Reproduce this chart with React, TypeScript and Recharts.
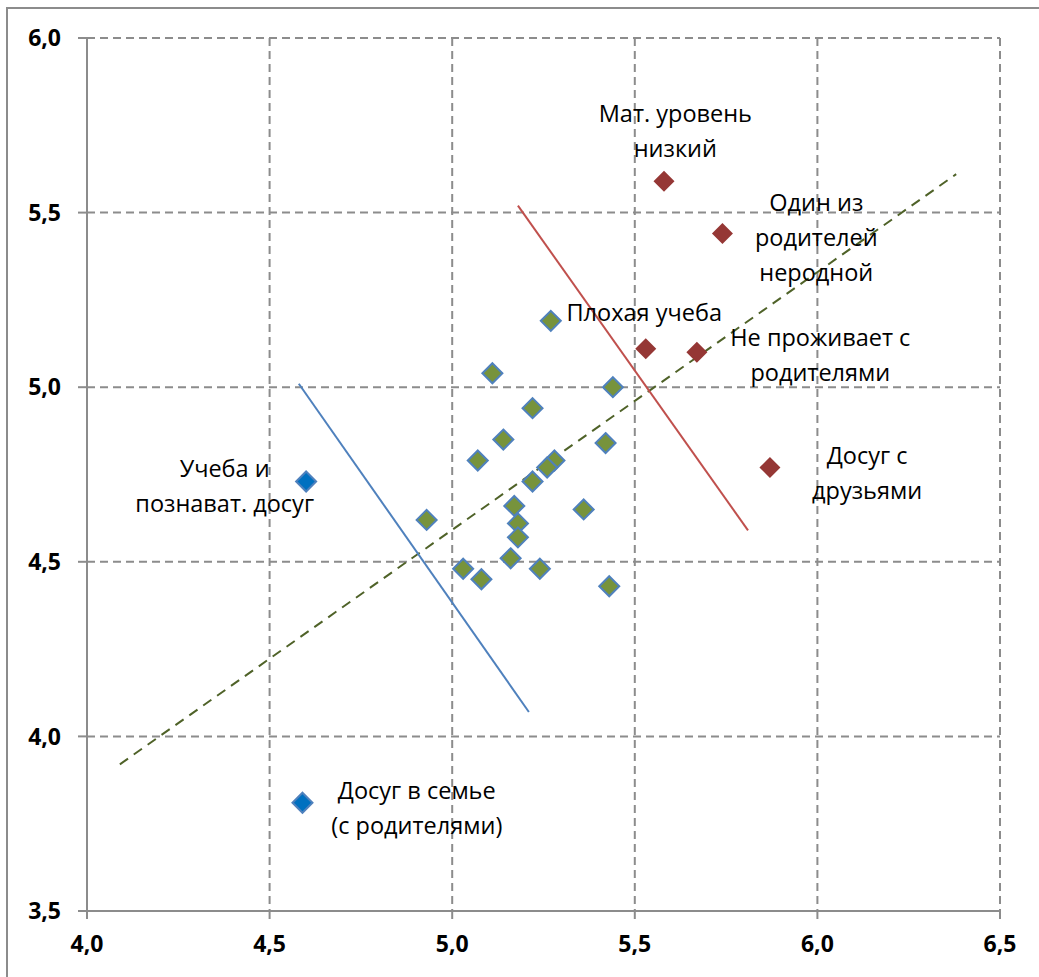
import { ScatterChart, Scatter, XAxis, YAxis, CartesianGrid } from "recharts";

// Factor means: x / y
const groupX = [5.27, 5.11, 5.44, 5.22, 5.14, 5.07, 5.42, 5.28, 5.26, 5.22, 5.17, 5.18, 5.18, 4.93, 5.36, 5.16, 5.03, 5.08, 5.24, 5.43];
const groupY = [5.19, 5.04, 5.00, 4.94, 4.85, 4.79, 4.84, 4.79, 4.77, 4.73, 4.66, 4.61, 4.57, 4.62, 4.65, 4.51, 4.48, 4.45, 4.48, 4.43];

const riskX = [5.58, 5.74, 5.53, 5.67, 5.87];
const riskY = [5.59, 5.44, 5.11, 5.10, 4.77];

const protectX = [4.60, 4.59];
const protectY = [4.73, 3.81];

// Separating lines and trend
const blueLineX = [4.58, 5.21];
const blueLineY = [5.01, 4.07];
const redLineX = [5.18, 5.81];
const redLineY = [5.52, 4.59];
const trendX = [4.09, 6.38];
const trendY = [3.92, 5.61];

const xTicks = [4.0, 4.5, 5.0, 5.5, 6.0, 6.5];
const yTicks = [3.5, 4.0, 4.5, 5.0, 5.5, 6.0];

// Annotations (anchor in data units)
const noteText = [
  ["Мат. уровень", "низкий"],
  ["Один из", "родителей", "неродной"],
  ["Плохая учеба"],
  ["Не проживает с", "родителями"],
  ["Досуг с", "друзьями"],
  ["Учеба и", "познават. досуг"],
  ["Досуг в семье", "(с родителями)"],
];
const noteX = [5.611, 5.997, 5.313, 6.008, 6.136, 4.377, 4.903];
const noteY = [5.785, 5.53, 5.215, 5.144, 4.806, 4.769, 3.847];
const noteAnchor = ["middle", "middle", "start", "middle", "middle", "middle", "middle"];

const zip = (xs: number[], ys: number[]) => xs.map((x, i) => ({ x, y: ys[i] }));

const groupData = zip(groupX, groupY);
const riskData = zip(riskX, riskY);
const protectData = zip(protectX, protectY);
const noteData = noteX.map((x, i) => ({ x, y: noteY[i], lines: noteText[i], anchor: noteAnchor[i] }));

const fmt = (v: number) => v.toFixed(1).replace(".", ",");

const Diamond = (r: number, fill: string, stroke?: string) => (props: any) => {
  const { cx, cy } = props;
  if (cx == null || cy == null) return <g />;
  return (
    <path
      d={`M${cx},${cy - r}L${cx + r},${cy}L${cx},${cy + r}L${cx - r},${cy}Z`}
      fill={fill}
      stroke={stroke || "none"}
      strokeWidth={stroke ? 2 : 0}
    />
  );
};

const NoteShape = (props: any) => {
  const { cx, cy, payload } = props;
  const lines: string[] = payload.lines;
  return (
    <text x={cx} y={cy} textAnchor={payload.anchor} dominantBaseline="central" fontSize={23.5} fontFamily="'Open Sans', sans-serif" fill="#000">
      {lines.map((l, i) => (
        <tspan key={i} x={cx} dy={i === 0 ? 0 : 35}>{l}</tspan>
      ))}
    </text>
  );
};

const noShape = () => <g />;

const tickStyle = { fontSize: 23, fontWeight: 700, fill: "#000", fontFamily: "'Open Sans', sans-serif" };

export default function App() {
  return (
    <div style={{ position: "absolute", left: 0, top: 0, width: 1039, height: 977, background: "#fff" }}>
      <div style={{ position: "absolute", left: 6, top: 7, width: 1040, height: 980, borderLeft: "2px solid #8c8c8c", borderTop: "2px solid #8c8c8c" }} />
      <ScatterChart width={1039} height={977} margin={{ top: 38, right: 39, bottom: 0, left: 0 }}>
        <CartesianGrid stroke="#8c8c8c" strokeWidth={2} strokeDasharray="8 5" />
        <XAxis
          type="number"
          dataKey="x"
          domain={[4, 6.5]}
          ticks={xTicks}
          tickFormatter={fmt}
          height={66}
          stroke="#8c8c8c"
          strokeWidth={2}
          tickSize={8}
          tick={tickStyle}
          tickMargin={17}
          allowDataOverflow
        />
        <YAxis
          type="number"
          dataKey="y"
          domain={[3.5, 6]}
          ticks={yTicks}
          tickFormatter={fmt}
          width={87}
          stroke="#8c8c8c"
          strokeWidth={2}
          tickSize={9}
          tick={tickStyle}
          tickMargin={17}
          allowDataOverflow
        />
        <Scatter data={zip(trendX, trendY)} line={{ stroke: "#4f6228", strokeWidth: 2, strokeDasharray: "10 7" }} shape={noShape} isAnimationActive={false} />
        <Scatter data={zip(blueLineX, blueLineY)} line={{ stroke: "#4f81bd", strokeWidth: 2 }} shape={noShape} isAnimationActive={false} />
        <Scatter data={zip(redLineX, redLineY)} line={{ stroke: "#c0504d", strokeWidth: 2 }} shape={noShape} isAnimationActive={false} />
        <Scatter data={groupData} shape={Diamond(10, "#77933c", "#4f81bd")} isAnimationActive={false} />
        <Scatter data={riskData} shape={Diamond(10.5, "#953735")} isAnimationActive={false} />
        <Scatter data={protectData} shape={Diamond(10, "#0070c0", "#4f81bd")} isAnimationActive={false} />
        <Scatter data={noteData} shape={NoteShape} isAnimationActive={false} />
      </ScatterChart>
    </div>
  );
}
